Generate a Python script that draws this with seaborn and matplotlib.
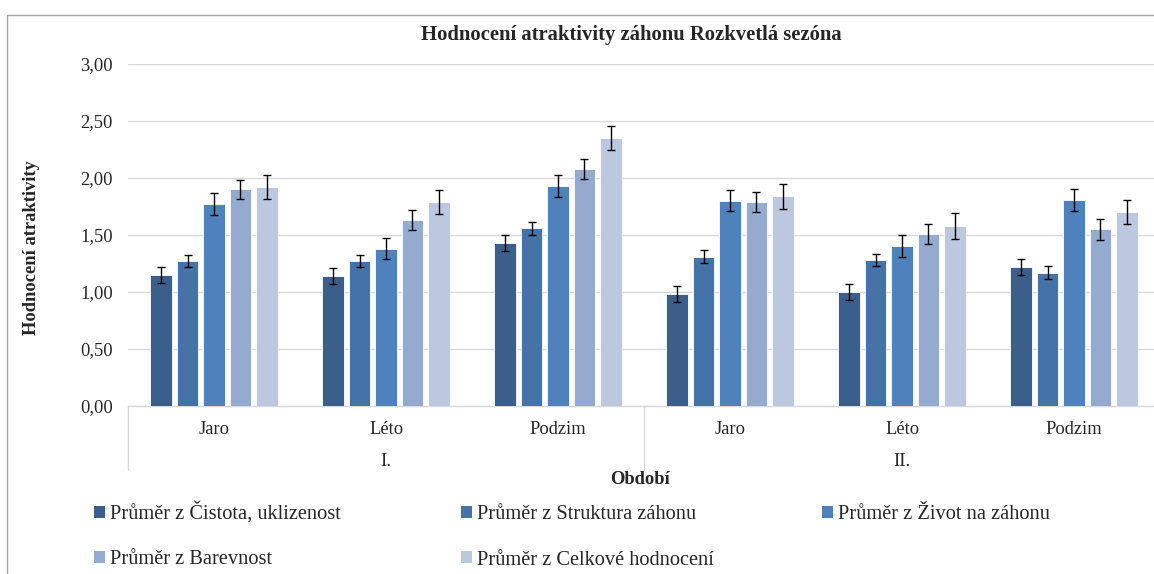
import matplotlib
matplotlib.use("Agg")
import matplotlib.pyplot as plt
import matplotlib.transforms as mtransforms
from matplotlib.patches import Rectangle
import seaborn as sns
import pandas as pd
import numpy as np

# ---------------- data ----------------
groups = ["I.", "II."]
seasons = ["Jaro", "Léto", "Podzim"]
categories = ["I. Jaro", "I. Léto", "I. Podzim", "II. Jaro", "II. Léto", "II. Podzim"]
series = ["Průměr z Čistota, uklizenost", "Průměr z Struktura záhonu",
          "Průměr z Život na záhonu", "Průměr z Barevnost",
          "Průměr z Celkové hodnocení"]
cistota   = [1.15, 1.14, 1.43, 0.98, 1.00, 1.22]
struktura = [1.27, 1.27, 1.56, 1.31, 1.28, 1.17]
zivot     = [1.77, 1.38, 1.93, 1.80, 1.40, 1.81]
barevnost = [1.90, 1.63, 2.08, 1.79, 1.51, 1.55]
celkove   = [1.92, 1.79, 2.35, 1.84, 1.58, 1.70]
err_cistota   = [0.068, 0.067, 0.069, 0.069, 0.069, 0.067]
err_struktura = [0.055, 0.055, 0.056, 0.056, 0.055, 0.054]
err_zivot     = [0.097, 0.094, 0.096, 0.092, 0.096, 0.096]
err_barevnost = [0.086, 0.088, 0.089, 0.091, 0.089, 0.092]
err_celkove   = [0.108, 0.108, 0.107, 0.108, 0.111, 0.107]
yticks = [0, 0.5, 1.0, 1.5, 2.0, 2.5, 3.0]
colors = ["#3B5E8C", "#4572A7", "#4F81BD", "#95AACF", "#BCC8E0"]

values = [cistota, struktura, zivot, barevnost, celkove]
errors = [err_cistota, err_struktura, err_zivot, err_barevnost, err_celkove]

df = pd.DataFrame({
    "Kategorie": [c for _ in series for c in categories],
    "Série": [s for s in series for _ in categories],
    "Hodnota": [v for vals in values for v in vals],
})

# ---------------- style ----------------
sns.set_theme(style="white")
plt.rcParams["font.family"] = ["Liberation Serif", "DejaVu Serif"]
FS_TICK = 13.3
FS_TITLE = 14.9
FS_LEG = 14.7

W, H = 1154, 574
fig = plt.figure(figsize=(W / 100, H / 100), dpi=100)

# outer chart frame
fig.patches.append(Rectangle((7 / W, -0.1), 1.2, (574 - 15) / H + 0.1,
                             transform=fig.transFigure, fill=False,
                             edgecolor="#A6A6A6", linewidth=1.0, zorder=0))

ax = fig.add_axes([128 / W, (H - 406) / H, 1032 / W, 342 / H])

sns.barplot(data=df, x="Kategorie", y="Hodnota", hue="Série",
            order=categories, hue_order=series, palette=colors,
            width=0.77, gap=0.2, errorbar=None, ax=ax,
            edgecolor="white", linewidth=0.6, saturation=1, zorder=3)

# error bars from bar geometry
for cont, errs in zip(ax.containers, errors):
    xs = [b.get_x() + b.get_width() / 2 for b in cont]
    hs = [b.get_height() for b in cont]
    ax.errorbar(xs, hs, yerr=errs, fmt="none", ecolor="black",
                elinewidth=1.0, capsize=3.2, capthick=1.0, zorder=4)

ax.set_ylim(0, 3)
ax.set_xlim(-0.5, len(categories) - 0.5)
ax.set_yticks(yticks)
ax.set_yticklabels([f"{t:.2f}".replace(".", ",") for t in yticks], fontsize=FS_TICK)
ax.yaxis.grid(True, color="#D9D9D9", linewidth=1.0, zorder=0)
ax.set_axisbelow(True)
ax.set_xticks(range(len(categories)))
ax.set_xticklabels(seasons * len(groups), fontsize=FS_TICK)
ax.tick_params(axis="x", length=0, pad=10.5)
ax.tick_params(axis="y", length=0, pad=11)
for s in ["top", "right", "left"]:
    ax.spines[s].set_visible(False)
ax.spines["bottom"].set_color("#D9D9D9")
ax.spines["bottom"].set_linewidth(1.0)
ax.set_xlabel("")
ax.set_ylabel("")
ax.get_legend().remove()

# multi-level axis: separators and group labels
trans = mtransforms.blended_transform_factory(ax.transData, ax.transAxes)
sep_drop = (470 - 406) / 342
for xsep in [-0.5, 2.5, 5.5]:
    ax.plot([xsep, xsep], [0, -sep_drop], transform=trans, color="#D9D9D9",
            linewidth=1.0, clip_on=False)
for gi, g in enumerate(groups):
    ax.text(gi * 3 + 1, -(462 - 406) / 342, g, transform=trans,
            ha="center", va="center", fontsize=FS_TICK)

# titles
fig.text(631 / W, 1 - 35 / H, "Hodnocení atraktivity záhonu Rozkvetlá sezóna",
         ha="center", va="center", fontsize=FS_TITLE, fontweight="bold")
fig.text(640 / W, 1 - 480 / H, "Období", ha="center", va="center",
         fontsize=FS_TICK, fontweight="bold")
fig.text(32 / W, 1 - 248 / H, "Hodnocení atraktivity", ha="center", va="center",
         rotation=90, fontsize=FS_TICK, fontweight="bold")

# legend: three columns, row-major order
handles = [Rectangle((0, 0), 1, 1, facecolor=c, edgecolor="none") for c in colors]
col_items = [[0, 3], [1, 4], [2]]
col_x = [94, 461, 822]
col_top = [502, 505, 505]
for items, cx, ct in zip(col_items, col_x, col_top):
    fig.legend([handles[i] for i in items], [series[i] for i in items],
               ncol=1, loc="upper left", bbox_to_anchor=(cx / W, 1 - ct / H),
               frameon=False, fontsize=FS_LEG, handlelength=0.54,
               handleheight=0.54, handletextpad=0.25, labelspacing=1.3,
               borderpad=0, borderaxespad=0)

fig.savefig("out.png", dpi=100)
